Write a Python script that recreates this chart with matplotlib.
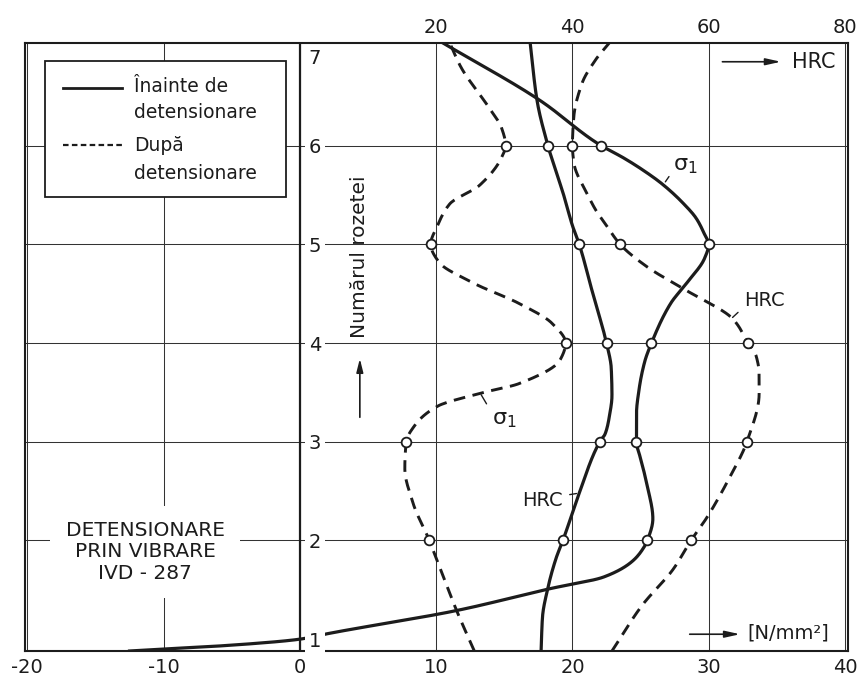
import numpy as np
import matplotlib
matplotlib.use("Agg")
from matplotlib import pyplot as plt
from matplotlib.patches import Rectangle
from matplotlib.lines import Line2D

plt.rcParams['font.family'] = ['DejaVu Sans']
plt.rcParams['axes.unicode_minus'] = False

ink = '#1c1c1c'

# numarul rozetei cu punct de masura
rozete = [2, 3, 4, 5, 6]
# valori in punctele de masura (citite de pe desen)
sigma_inainte = [25.5, 24.7, 25.8, 30.0, 22.1]   # N/mm2
hrc_inainte = [38.6, 44.0, 45.0, 41.0, 36.4]
sigma_dupa = [9.5, 7.8, 19.5, 9.6, 15.1]         # N/mm2
hrc_dupa = [57.4, 65.6, 65.8, 47.0, 40.0]

# curbele trasate intre puncte (rozeta, valoare)
y_sig_in = [0.88, 0.90, 0.94, 1.0, 1.06, 1.29, 1.51, 1.63, 1.79, 1.90, 2.0, 2.22, 2.55,
            2.83, 3.0, 3.28, 3.54, 3.81, 4.0, 4.4, 4.61, 4.86, 5.0, 5.10, 5.26, 5.42,
            5.61, 5.75, 5.88, 6.0, 6.46, 7.04]
x_sig_in = [-12.5, -10.0, -4.9, 0.0, 2.2, 11.5, 18.3, 22.3, 24.4, 25.1, 25.5, 25.9, 25.5,
            25.0, 24.7, 24.7, 24.9, 25.3, 25.8, 27.2, 28.4, 29.7, 30.0, 29.7, 29.1, 28.1,
            26.6, 25.2, 23.7, 22.1, 17.6, 10.5]

y_hrc_in = [0.88, 1.22, 1.52, 1.82, 2.0, 2.48, 3.0, 3.08, 3.25, 3.47, 3.74, 4.0, 4.26,
            4.5, 5.0, 5.19, 5.48, 6.0, 6.46, 7.04]
x_hrc_in = [35.4, 35.6, 36.4, 37.6, 38.6, 41.0, 44.0, 44.8, 45.4, 45.8, 45.7, 45.0, 44.0,
            43.0, 41.0, 40.0, 38.8, 36.4, 34.8, 33.8]

y_sig_du = [0.88, 1.29, 1.79, 2.0, 2.38, 2.73, 3.0, 3.16, 3.36, 3.49, 3.59, 3.83, 4.0,
            4.2, 4.4, 4.61, 4.82, 5.0, 5.19, 5.41, 5.6, 5.88, 6.0, 6.18, 6.36, 6.8, 7.04]
x_sig_du = [12.8, 11.5, 10.1, 9.5, 8.3, 7.7, 7.8, 8.4, 10.1, 13.2, 16.1, 19.1, 19.5,
            18.5, 16.1, 12.7, 10.2, 9.6, 10.1, 11.0, 13.2, 14.8, 15.1, 14.8, 14.0, 11.8, 11.0]

y_hrc_du = [0.88, 1.34, 1.71, 2.0, 2.24, 2.63, 3.0, 3.49, 3.69, 3.86, 4.0, 4.24, 4.53,
            4.77, 5.0, 5.19, 5.35, 5.48, 5.83, 6.0, 6.29, 6.63, 6.87, 7.04]
x_hrc_du = [45.8, 50.2, 54.8, 57.4, 59.8, 63.0, 65.6, 67.4, 67.4, 67.0, 65.8, 63.6, 56.8,
            51.0, 47.0, 45.0, 43.4, 42.4, 40.2, 40.0, 40.2, 41.4, 43.4, 45.4]

x_ticks = [-20, -10, 0, 10, 20, 30, 40]
hrc_ticks = [20, 40, 60, 80]
y_ticks = [1, 2, 3, 4, 5, 6, 7]


def hrc2sigma(h):
    return np.asarray(h, dtype=float) / 2.0


def sigma2hrc(s):
    return np.asarray(s, dtype=float) * 2.0


def smooth(y, x, n=600):
    # monotone cubic through the traced points, only for drawing the curve
    y = np.asarray(y, dtype=float)
    x = np.asarray(x, dtype=float)
    h = np.diff(y)
    d = np.diff(x) / h
    m = np.zeros_like(x)
    m[0], m[-1] = d[0], d[-1]
    for k in range(1, len(x) - 1):
        if d[k - 1] * d[k] > 0:
            w1 = 2 * h[k] + h[k - 1]
            w2 = h[k] + 2 * h[k - 1]
            m[k] = (w1 + w2) / (w1 / d[k - 1] + w2 / d[k])
    yy = np.linspace(y[0], y[-1], n)
    i = np.clip(np.searchsorted(y, yy) - 1, 0, len(h) - 1)
    t = (yy - y[i]) / h[i]
    xx = ((2 * t**3 - 3 * t**2 + 1) * x[i] + (t**3 - 2 * t**2 + t) * h[i] * m[i]
          + (-2 * t**3 + 3 * t**2) * x[i + 1] + (t**3 - t**2) * h[i] * m[i + 1])
    return xx, yy


fig = plt.figure(figsize=(8.6, 6.91), dpi=100)
ax = fig.add_axes([25 / 860, 40 / 691, 823 / 860, 608 / 691])
ax.set_xlim(-20.17, 40.22)
ax.set_ylim(0.88, 7.04)
for sp in ax.spines.values():
    sp.set_color(ink)
    sp.set_linewidth(1.5)

ax.set_xticks(x_ticks)
ax.set_yticks([])
ax.tick_params(axis='x', length=0, labelsize=14, pad=5, colors=ink)
ax.xaxis.grid(True, color='#333333', lw=0.75)
ax.set_axisbelow(True)
for r in rozete:
    ax.axhline(r, color='#333333', lw=0.75, zorder=1)
ax.axvline(0, color=ink, lw=1.6, zorder=1.5)

secax = ax.secondary_xaxis('top', functions=(sigma2hrc, hrc2sigma))
secax.set_xticks(hrc_ticks)
secax.tick_params(length=0, labelsize=14, pad=4, colors=ink)
secax.spines['top'].set_visible(False)

# curbe
dash = (0, (4, 2.6))
xs, ys = smooth(y_sig_in, x_sig_in)
ax.plot(xs, ys, color=ink, lw=2.3, zorder=3)
xs, ys = smooth(y_hrc_in, hrc2sigma(x_hrc_in))
ax.plot(xs, ys, color=ink, lw=2.3, zorder=3)
xs, ys = smooth(y_sig_du, x_sig_du)
ax.plot(xs, ys, color=ink, lw=2.1, ls=dash, zorder=3)
xs, ys = smooth(y_hrc_du, hrc2sigma(x_hrc_du))
ax.plot(xs, ys, color=ink, lw=2.1, ls=dash, zorder=3)

mk = dict(ls='none', marker='o', ms=7, mfc='white', mec=ink, mew=1.3, zorder=4)
ax.plot(sigma_inainte, rozete, **mk)
ax.plot(hrc2sigma(hrc_inainte), rozete, **mk)
ax.plot(sigma_dupa, rozete, **mk)
ax.plot(hrc2sigma(hrc_dupa), rozete, **mk)

# etichete axa verticala
for r in y_ticks:
    ax.text(1.1, min(r, 6.9), str(r), ha='center', va='center_baseline', fontsize=14,
            color=ink, zorder=6, bbox=dict(fc='white', ec='none', pad=2.5))

ax.text(4.4, 4.87, 'Numărul rozetei', rotation=90, ha='center', va='center',
        fontsize=14.5, color=ink, zorder=6)
ax.annotate('', xy=(4.4, 3.87), xytext=(4.4, 3.22),
            arrowprops=dict(arrowstyle='-|>,head_length=0.8,head_width=0.2', color=ink, lw=1.2))

# unitati
ax.annotate('', xy=(35.5, 6.85), xytext=(30.8, 6.85),
            arrowprops=dict(arrowstyle='-|>,head_length=0.9,head_width=0.2', color=ink, lw=1.2))
ax.text(36.1, 6.85, 'HRC', ha='left', va='center', fontsize=15, color=ink)
ax.annotate('', xy=(32.5, 1.05), xytext=(28.4, 1.05),
            arrowprops=dict(arrowstyle='-|>,head_length=0.9,head_width=0.2', color=ink, lw=1.2))
ax.text(32.8, 1.06, '[N/mm²]', ha='left', va='center', fontsize=14, color=ink)

# etichete curbe
lead = dict(arrowstyle='-', color=ink, lw=1.0)
ax.annotate('', xy=(26.7, 5.61), xytext=(27.2, 5.71), arrowprops=lead)
ax.text(27.4, 5.79, r'$\mathregular{\sigma_1}$', ha='left', va='center', fontsize=16, color=ink)
ax.annotate('', xy=(31.6, 4.24), xytext=(32.3, 4.33), arrowprops=lead)
ax.text(32.6, 4.43, 'HRC', ha='left', va='center', fontsize=14, color=ink)
ax.annotate('', xy=(13.2, 3.5), xytext=(13.8, 3.36), arrowprops=lead)
ax.text(14.1, 3.22, r'$\mathregular{\sigma_1}$', ha='left', va='center', fontsize=16, color=ink)
ax.annotate('', xy=(20.5, 2.48), xytext=(19.6, 2.46), arrowprops=lead)
ax.text(19.3, 2.4, 'HRC', ha='right', va='center', fontsize=14, color=ink)

# legenda
ax.add_patch(Rectangle((0.0243, 0.747), 0.293, 0.223, transform=ax.transAxes,
                       fc='white', ec=ink, lw=1.3, zorder=5))
ax.add_line(Line2D([0.046, 0.118], [0.926, 0.926], transform=ax.transAxes,
                   color=ink, lw=2.0, zorder=6))
ax.add_line(Line2D([0.046, 0.118], [0.832, 0.832], transform=ax.transAxes,
                   color=ink, lw=1.6, ls=(0, (2.5, 1.5)), zorder=6))
leg_txt = [(0.928, 'Înainte de'), (0.885, 'detensionare'),
           (0.832, 'După'), (0.786, 'detensionare')]
for fy, t in leg_txt:
    ax.text(0.133, fy, t, transform=ax.transAxes, ha='left', va='center',
            fontsize=13.5, color=ink, zorder=6)

ax.text(0.146, 0.163, 'DETENSIONARE\nPRIN VIBRARE\nIVD - 287', transform=ax.transAxes,
        ha='center', va='center', multialignment='center', fontsize=14.5, linespacing=1.15,
        color=ink, zorder=6, bbox=dict(fc='white', ec='none', pad=11))

fig.savefig('out.png', dpi=100, facecolor='white')
